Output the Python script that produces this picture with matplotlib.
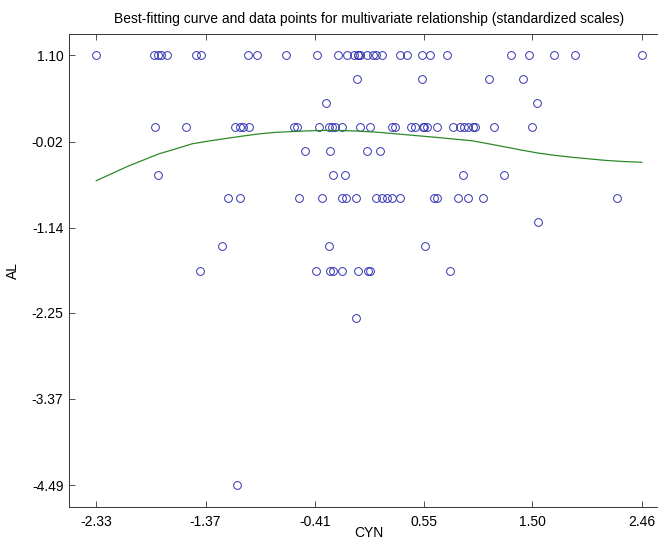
import matplotlib
matplotlib.use("Agg")
import matplotlib.pyplot as plt

plt.rcParams['font.family'] = ['Liberation Sans', 'DejaVu Sans']

# AL levels (standardized) and the CYN values of the points on each level
al_levels = [1.10, 0.79, 0.48, 0.17, -0.14, -0.45, -0.76, -1.07, -1.38, -1.70, -2.32, -4.49]
cyn_al_110 = [-2.33, -1.82, -1.79, -1.76, -1.71, -1.45, -1.41, -1.00, -0.92, -0.66,
              -0.39, -0.21, -0.13, -0.07, -0.03, -0.03, -0.01, 0.05, 0.10, 0.13,
              0.18, 0.34, 0.40, 0.53, 0.60, 0.75, 1.31, 1.47, 1.69, 1.87, 2.46]
cyn_al_079 = [-0.04, 0.53, 1.12, 1.42]
cyn_al_048 = [-0.31, 1.54]
cyn_al_017 = [-1.81, -1.54, -1.11, -1.07, -1.04, -0.99, -0.59, -0.57, -0.37, -0.29,
              -0.26, -0.23, -0.17, -0.01, 0.07, 0.27, 0.29, 0.43, 0.47, 0.54,
              0.55, 0.57, 0.66, 0.80, 0.86, 0.90, 0.93, 0.98, 1.00, 1.16, 1.50]
cyn_al_m014 = [-0.50, -0.28, 0.05, 0.16]
cyn_al_m045 = [-1.79, -0.25, -0.15, 0.89, 1.25]
cyn_al_m076 = [-1.17, -1.07, -0.55, -0.35, -0.17, -0.14, -0.05, 0.13, 0.18, 0.22,
               0.27, 0.34, 0.64, 0.66, 0.85, 0.93, 1.07, 2.24]
cyn_al_m107 = [1.55]
cyn_al_m138 = [-1.23, -0.29, 0.56]
cyn_al_m170 = [-1.42, -0.40, -0.28, -0.25, -0.17, -0.03, 0.06, 0.07, 0.78]
cyn_al_m232 = [-0.05]
cyn_al_m449 = [-1.09]

cyn_rows = [cyn_al_110, cyn_al_079, cyn_al_048, cyn_al_017, cyn_al_m014, cyn_al_m045,
            cyn_al_m076, cyn_al_m107, cyn_al_m138, cyn_al_m170, cyn_al_m232, cyn_al_m449]

# best-fitting curve
curve_x = [-2.33, -2.05, -1.78, -1.62, -1.49, -1.35, -1.19, -1.05, -0.90, -0.75,
           -0.61, -0.45, -0.32, -0.17, -0.03, 0.15, 0.38, 0.65, 0.97, 1.10,
           1.26, 1.40, 1.55, 1.70, 1.85, 2.14, 2.30, 2.46]
curve_y = [-0.53, -0.34, -0.18, -0.11, -0.05, -0.015, 0.02, 0.05, 0.08, 0.10,
           0.11, 0.12, 0.125, 0.123, 0.116, 0.10, 0.07, 0.035, -0.01, -0.045,
           -0.09, -0.13, -0.17, -0.20, -0.225, -0.265, -0.28, -0.29]

xticks = [-2.33, -1.37, -0.41, 0.55, 1.50, 2.46]
yticks = [1.10, -0.02, -1.14, -2.25, -3.37, -4.49]

fig = plt.figure(figsize=(6.58, 5.41), dpi=100)
ax = fig.add_axes([69 / 658, 1 - 506.5 / 541, 600 / 658, 472.5 / 541])

for al, row in zip(al_levels, cyn_rows):
    ax.plot(row, [al] * len(row), 'o', linestyle='none', markersize=5.6,
            markerfacecolor='none', markeredgecolor='#3232b4', markeredgewidth=0.7)

ax.plot(curve_x, curve_y, color='#2a8a2a', linewidth=0.9)

x_range = max(cyn_al_110) - min(cyn_al_110)
y_range = max(al_levels) - min(al_levels)
ax.set_xlim(-2.33 - 0.05 * x_range, 2.46 + 0.05 * x_range)
ax.set_ylim(-4.49 - 0.05 * y_range, 1.10 + 0.05 * y_range)

ax.set_xticks(xticks)
ax.set_xticklabels(['%.2f' % t for t in xticks])
ax.set_yticks(yticks)
ax.set_yticklabels(['%.2f' % t for t in yticks])
ax.tick_params(direction='in', length=4, width=0.6, color='#333333',
               labelsize=10, top=True, right=True)
ax.tick_params(axis='x', pad=6)
ax.tick_params(axis='y', pad=4)
for s in ax.spines.values():
    s.set_linewidth(0.7)
    s.set_color('#333333')

ax.set_xlabel('CYN', fontsize=10, labelpad=-2)
ax.set_ylabel('AL', fontsize=10, labelpad=8)
ax.set_title('Best-fitting curve and data points for multivariate relationship (standardized scales)',
             fontsize=10, pad=8)

fig.savefig('out.png', dpi=100)
